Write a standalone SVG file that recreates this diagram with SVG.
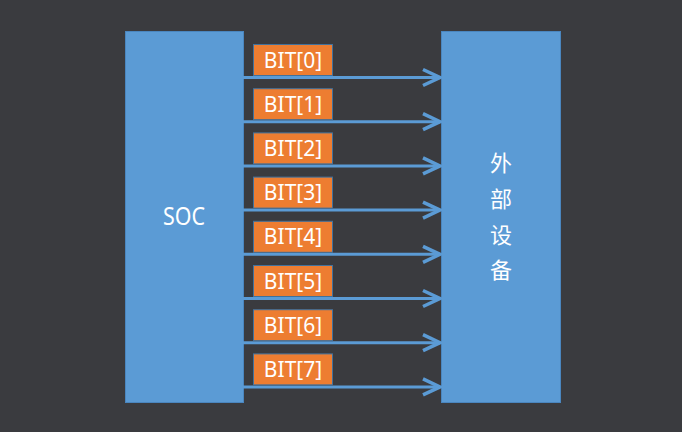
<svg xmlns="http://www.w3.org/2000/svg" width="682" height="432" viewBox="0 0 682 432">
<style>
.blk{fill:#5b9bd5;stroke:#4a86bf;stroke-width:1}
.lbl{fill:#ed7d31;stroke:#41719c;stroke-width:1}
.lt{font-family:"Noto Sans","Open Sans",sans-serif;font-size:21px;fill:#ffffff;text-anchor:middle}
.cn{font-family:"Noto Sans CJK SC",sans-serif;font-size:22px;fill:#ffffff;text-anchor:middle}
.ar{stroke:#5b9bd5;stroke-width:3;fill:none}
</style>
<defs>
<marker id="ah" markerUnits="userSpaceOnUse" markerWidth="22" markerHeight="22" refX="20" refY="11" orient="auto" viewBox="0 0 22 22">
<path d="M3,3 L20,11 L3,19" fill="none" stroke="#5b9bd5" stroke-width="3.5" stroke-linejoin="miter"/>
</marker>
</defs>
<rect width="682" height="432" fill="#3a3b3f"/>
<g id="soc">
<rect class="blk" x="125.5" y="31.5" width="118" height="371"/>
<text x="184" y="225" font-family="'Noto Sans',sans-serif" font-size="25" fill="#fff" text-anchor="middle" textLength="42" lengthAdjust="spacingAndGlyphs">SOC</text>
</g>
<g id="device">
<rect class="blk" x="441.5" y="31.5" width="119" height="371"/>
<text class="cn" x="501" y="171">外</text>
<text class="cn" x="501" y="207">部</text>
<text class="cn" x="501" y="243">设</text>
<text class="cn" x="501" y="278">备</text>
</g>
<g id="connectors">
<line class="ar" x1="243" y1="77.5" x2="440" y2="77.5" marker-end="url(#ah)"/>
<line class="ar" x1="243" y1="121.7" x2="440" y2="121.7" marker-end="url(#ah)"/>
<line class="ar" x1="243" y1="165.9" x2="440" y2="165.9" marker-end="url(#ah)"/>
<line class="ar" x1="243" y1="210.1" x2="440" y2="210.1" marker-end="url(#ah)"/>
<line class="ar" x1="243" y1="254.3" x2="440" y2="254.3" marker-end="url(#ah)"/>
<line class="ar" x1="243" y1="298.5" x2="440" y2="298.5" marker-end="url(#ah)"/>
<line class="ar" x1="243" y1="342.7" x2="440" y2="342.7" marker-end="url(#ah)"/>
<line class="ar" x1="243" y1="386.9" x2="440" y2="386.9" marker-end="url(#ah)"/>
</g>
<g id="bit0"><rect class="lbl" x="253.5" y="44.5" width="79" height="31"/><text class="lt" x="293" y="67.5">BIT[0]</text></g>
<g id="bit1"><rect class="lbl" x="253.5" y="88.7" width="79" height="31"/><text class="lt" x="293" y="111.7">BIT[1]</text></g>
<g id="bit2"><rect class="lbl" x="253.5" y="132.9" width="79" height="31"/><text class="lt" x="293" y="155.9">BIT[2]</text></g>
<g id="bit3"><rect class="lbl" x="253.5" y="177.1" width="79" height="31"/><text class="lt" x="293" y="200.1">BIT[3]</text></g>
<g id="bit4"><rect class="lbl" x="253.5" y="221.3" width="79" height="31"/><text class="lt" x="293" y="244.3">BIT[4]</text></g>
<g id="bit5"><rect class="lbl" x="253.5" y="265.5" width="79" height="31"/><text class="lt" x="293" y="288.5">BIT[5]</text></g>
<g id="bit6"><rect class="lbl" x="253.5" y="309.7" width="79" height="31"/><text class="lt" x="293" y="332.7">BIT[6]</text></g>
<g id="bit7"><rect class="lbl" x="253.5" y="353.9" width="79" height="31"/><text class="lt" x="293" y="376.9">BIT[7]</text></g>
</svg>
